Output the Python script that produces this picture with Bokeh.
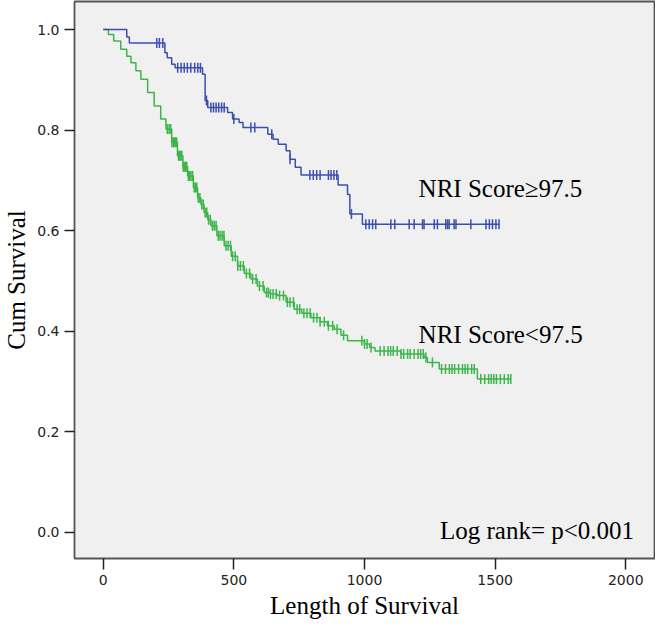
import numpy as np
from bokeh.plotting import figure
from bokeh.models import Range1d, FixedTicker, NumeralTickFormatter, Label
from bokeh.embed import file_html
from bokeh.resources import INLINE

# ---- data ----
# NRI Score >= 97.5 (blue): event step times and survival after each step
blue_times = [0, 90, 100, 236, 245, 262, 275, 380, 390, 400, 476, 495, 520, 535,
              630, 650, 670, 700, 715, 735, 757, 899, 935, 944, 992]
blue_surv = [1.0, 0.985, 0.973, 0.954, 0.944, 0.931, 0.924, 0.911, 0.859, 0.845,
             0.835, 0.822, 0.815, 0.805, 0.792, 0.782, 0.772, 0.759, 0.742, 0.726,
             0.711, 0.691, 0.672, 0.633, 0.613]
blue_end = 1515
blue_censor = [205, 215, 228, 285, 298, 310, 322, 335, 350, 362, 372, 395, 412, 422,
               432, 442, 453, 463, 500, 565, 580, 645, 715, 791, 804, 817, 830, 862,
               872, 883, 894, 950, 1005, 1018, 1031, 1043, 1101, 1116, 1171, 1190,
               1222, 1228, 1267, 1279, 1311, 1318, 1324, 1343, 1350, 1407, 1465,
               1478, 1490, 1503, 1515]

# NRI Score < 97.5 (green)
green_times = [0, 20, 40, 67, 90, 106, 125, 144, 170, 195, 220, 240, 262, 284, 305,
               323, 345, 361, 374, 386, 400, 412, 435, 463, 490, 514, 540, 565, 590,
               616, 640, 667, 700, 731, 760, 795, 830, 858, 884, 910, 935, 1000, 1020,
               1040, 1139, 1228, 1241, 1286, 1432]
green_surv = [1.0, 0.99, 0.977, 0.961, 0.947, 0.934, 0.918, 0.901, 0.875, 0.848,
              0.822, 0.802, 0.776, 0.749, 0.727, 0.709, 0.686, 0.665, 0.652, 0.636,
              0.622, 0.610, 0.590, 0.570, 0.549, 0.530, 0.515, 0.504, 0.490, 0.477,
              0.474, 0.471, 0.458, 0.444, 0.436, 0.427, 0.419, 0.411, 0.404, 0.392,
              0.381, 0.375, 0.368, 0.361, 0.355, 0.348, 0.338, 0.325, 0.305]
green_end = 1560
green_censor = [245, 252, 258, 263, 268, 272, 277, 281, 288, 292, 297, 301, 306, 311,
                316, 320, 326, 331, 336, 342, 348, 353, 358, 364, 370, 377, 383, 390,
                396, 403, 410, 418, 425, 432, 440, 447, 455, 462, 470, 478, 487, 495,
                505, 515, 525, 536, 548, 560, 572, 585, 598, 612, 625, 632, 640, 650,
                662, 675, 690, 705, 715, 728, 742, 752, 768, 780, 792, 805, 818, 830,
                846, 862, 878, 895, 920, 990, 1000, 1010, 1025, 1060, 1075, 1090, 1100,
                1110, 1125, 1140, 1150, 1165, 1175, 1190, 1205, 1215, 1225, 1235, 1260,
                1295, 1310, 1325, 1335, 1345, 1360, 1375, 1385, 1395, 1410, 1420, 1445,
                1460, 1475, 1485, 1495, 1505, 1520, 1535, 1550, 1560]

x_ticks = [0, 500, 1000, 1500, 2000]
y_ticks = [0.0, 0.2, 0.4, 0.6, 0.8, 1.0]

label_hi = "NRI Score\u226597.5"
label_lo = "NRI Score<97.5"
label_p = "Log rank= p<0.001"

BLUE = "#3b4fae"
GREEN = "#3cb54a"


def surv_at(times, surv, t):
    idx = np.searchsorted(np.asarray(times), np.asarray(t), side="right") - 1
    return np.asarray(surv)[idx]


p = figure(frame_width=580, frame_height=557, output_backend="svg",
           toolbar_location=None,
           x_range=Range1d(-110, 2110), y_range=Range1d(-0.0517, 1.0557),
           min_border_left=69, min_border_right=1, min_border_top=1,
           min_border_bottom=66)

p.background_fill_color = "#f0f0f0"
p.border_fill_color = "white"
p.outline_line_color = "#555555"
p.outline_line_width = 1.8
p.grid.visible = False

# curves
bx = list(blue_times) + [blue_end]
by = list(blue_surv) + [blue_surv[-1]]
gx = list(green_times) + [green_end]
gy = list(green_surv) + [green_surv[-1]]
p.step(gx, gy, mode="after", line_color=GREEN, line_width=1.5)
p.step(bx, by, mode="after", line_color=BLUE, line_width=1.5)

p.scatter(green_censor, surv_at(green_times, green_surv, green_censor),
          marker="dash", angle=np.pi / 2, size=10, line_color=GREEN, line_width=1.5)
p.scatter(blue_censor, surv_at(blue_times, blue_surv, blue_censor),
          marker="dash", angle=np.pi / 2, size=10, line_color=BLUE, line_width=1.5)

# axes
for ax in (p.xaxis[0], p.yaxis[0]):
    ax.axis_line_color = None
    ax.major_tick_in = 0
    ax.major_tick_line_color = "#222222"
    ax.major_tick_line_width = 1.5
    ax.minor_tick_line_color = None
    ax.major_label_text_font = "DejaVu Sans"
    ax.major_label_text_font_size = "14px"
    ax.major_label_text_color = "#222222"
    ax.axis_label_text_font = "Liberation Serif"
    ax.axis_label_text_font_size = "25px"
    ax.axis_label_text_font_style = "normal"
    ax.axis_label_text_color = "black"

p.xaxis.major_tick_out = 11
p.yaxis.major_tick_out = 10
p.xaxis.ticker = FixedTicker(ticks=x_ticks)
p.yaxis.ticker = FixedTicker(ticks=y_ticks)
p.yaxis.formatter = NumeralTickFormatter(format="0.0")
p.xaxis.axis_label = "Length of Survival"
p.yaxis.axis_label = "Cum Survival"
p.xaxis.major_label_standoff = 5
p.yaxis.major_label_standoff = 5
p.xaxis.axis_label_standoff = 4
p.yaxis.axis_label_standoff = 4

# annotations
p.add_layout(Label(x=1207, y=0.684, text=label_hi, text_font="Liberation Serif",
                   text_font_size="25px", text_baseline="middle", text_color="black"))
p.add_layout(Label(x=1207, y=0.394, text=label_lo, text_font="Liberation Serif",
                   text_font_size="25px", text_baseline="middle", text_color="black"))
p.add_layout(Label(x=2032, y=0.004, text=label_p, text_font="Liberation Serif",
                   text_font_size="25px", text_baseline="middle", text_align="right",
                   text_color="black"))

open("out.html", "w").write(file_html(p, INLINE))
